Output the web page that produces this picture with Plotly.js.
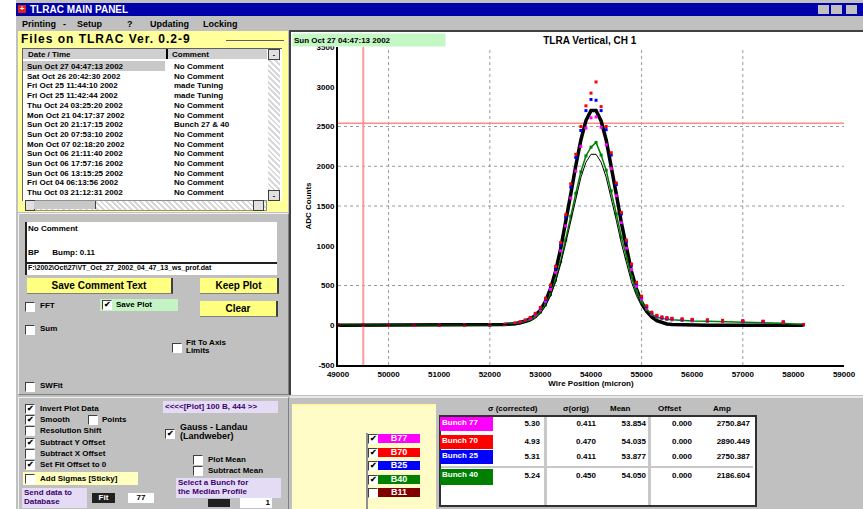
<!DOCTYPE html>
<html>
<head>
<meta charset="utf-8">
<script src="https://cdn.plot.ly/plotly-3.0.1.min.js"></script>
<style>
body{margin:0;width:863px;height:509px;position:relative;background:#fff;overflow:hidden;font-family:"Liberation Sans",Arial,sans-serif;font-size:8px;font-weight:bold;color:#000;}
.a{position:absolute;white-space:nowrap;}
.cb{position:absolute;width:8px;height:8px;background:#fff;border-top:1px solid #404040;border-left:1px solid #404040;border-right:1px solid #fff;border-bottom:1px solid #fff;font-size:8px;line-height:8px;text-align:center;}
.btn{position:absolute;background:#ffff80;border-right:2px solid #404040;border-bottom:1px solid #808080;font-size:10px;text-align:center;}
.lav{position:absolute;background:#e4dcf4;color:#400070;font-size:8px;line-height:9px;padding-left:2px;}
.row{position:absolute;left:27px;font-size:8px;}
.leg{position:absolute;left:378px;width:42px;height:9px;color:#fff;font-size:9px;line-height:9px;text-align:center;}
.rl{position:absolute;left:440px;width:51px;color:#fff;font-size:8px;line-height:12px;padding-left:2px;}
.v{position:absolute;text-align:right;font-size:8px;}
</style>
</head>
<body>
<div class="a" style="left:16px;top:0;width:847px;height:509px;background:#c0c0c0;"></div>
<!-- title bar -->
<div class="a" style="left:16px;top:3px;width:847px;height:13px;background:#0000a8;"></div>
<div class="a" style="left:18px;top:5px;width:8px;height:8px;background:#e02020;color:#fff;font-size:8px;line-height:8px;text-align:center;">+</div>
<div class="a" style="left:30px;top:4px;color:#fff;font-size:10px;">TLRAC MAIN PANEL</div>
<div class="a" style="left:818px;top:5px;width:11px;height:9px;background:#c0c0c0;"></div>
<div class="a" style="left:831px;top:5px;width:11px;height:9px;background:#c0c0c0;"></div>
<div class="a" style="left:846px;top:5px;width:11px;height:9px;background:#c0c0c0;"></div>
<!-- menu -->
<div class="a" style="left:22px;top:19px;font-size:9px;">Printing</div>
<div class="a" style="left:63px;top:19px;font-size:9px;">-</div>
<div class="a" style="left:77px;top:19px;font-size:9px;">Setup</div>
<div class="a" style="left:127px;top:19px;font-size:9px;">?</div>
<div class="a" style="left:150px;top:19px;font-size:9px;">Updating</div>
<div class="a" style="left:203px;top:19px;font-size:9px;">Locking</div>
<!-- yellow files group -->
<div class="a" style="left:18px;top:31px;width:270px;height:181px;background:#ffff9c;"></div>
<div class="a" style="left:21px;top:32px;font-size:12px;letter-spacing:1px;">Files on TLRAC Ver. 0.2-9</div>
<div class="a" style="left:226px;top:40px;width:58px;height:1px;background:#606060;"></div>
<div class="a" style="left:22px;top:48px;width:259px;height:152px;background:#fff;border-top:1px solid #606060;border-left:1px solid #606060;"></div>
<div class="a" style="left:23px;top:49px;width:244px;height:10px;background:#d0d0d0;"></div>
<div class="a" style="left:166px;top:49px;width:2px;height:10px;background:#000;"></div>
<div class="a" style="left:28px;top:50px;">Date / Time</div>
<div class="a" style="left:172px;top:50px;">Comment</div>
<div class="a" style="left:23px;top:61px;width:142px;height:10px;background:#c8c8c8;"></div>
<div class="a" style="left:268px;top:49px;width:12px;height:150px;background:repeating-linear-gradient(45deg,#fff 0 2px,#d8d8d8 2px 4px);"></div>
<div class="a" style="left:268px;top:49px;width:10px;height:9px;background:#e0e0e0;border:1px solid #404040;font-size:7px;line-height:9px;text-align:center;">-</div>
<div class="a" style="left:268px;top:190px;width:10px;height:9px;background:#e0e0e0;border:1px solid #404040;font-size:7px;line-height:9px;text-align:center;">-</div>
<div id="rows"></div>
<div class="a" style="left:25px;top:200px;width:240px;height:9px;background:repeating-linear-gradient(45deg,#fff 0 2px,#d8d8d8 2px 4px);border:1px solid #909090;"></div>
<div class="a" style="left:25px;top:200px;width:8px;height:9px;background:#e0e0e0;border:1px solid #404040;"></div>
<div class="a" style="left:34px;top:201px;width:61px;height:8px;background:#c8c8c8;border-right:1px solid #404040;"></div>
<div class="a" style="left:253px;top:200px;width:9px;height:9px;background:#e0e0e0;border:1px solid #404040;"></div>
<!-- lower left panel -->
<div class="a" style="left:18px;top:213px;width:269px;height:180px;border:1px solid #f0f0f0;border-right-color:#808080;border-bottom-color:#808080;"></div>
<div class="a" style="left:25px;top:222px;width:250px;height:40px;background:#fff;border-left:2px solid #202020;"></div>
<div class="a" style="left:28px;top:224px;">No Comment</div>
<div class="a" style="left:28px;top:248px;">BP &nbsp;&nbsp;&nbsp;&nbsp; Bump: 0.11</div>
<div class="a" style="left:25px;top:262px;width:250px;height:11px;background:#fff;border-top:2px solid #202020;border-left:2px solid #202020;"></div>
<div class="a" style="left:28px;top:264px;font-size:7px;">F:\2002\Oct\27\VT_Oct_27_2002_04_47_13_ws_prof.dat</div>
<div class="btn" style="left:27px;top:278px;width:144px;height:15px;line-height:15px;">Save Comment Text</div>
<div class="btn" style="left:200px;top:278px;width:77px;height:15px;line-height:15px;">Keep Plot</div>
<div class="btn" style="left:200px;top:301px;width:76px;height:15px;line-height:15px;">Clear</div>
<div class="cb" style="left:25px;top:302px;"></div><div class="a" style="left:40px;top:301px;">FFT</div>
<div class="a" style="left:100px;top:299px;width:78px;height:12px;background:#c4f4c4;"></div>
<div class="cb" style="left:102px;top:300px;">&#10004;</div><div class="a" style="left:116px;top:300px;">Save Plot</div>
<div class="cb" style="left:25px;top:325px;"></div><div class="a" style="left:40px;top:324px;">Sum</div>
<div class="cb" style="left:172px;top:343px;"></div><div class="a" style="left:186px;top:339px;line-height:8px;">Fit To Axis<br>Limits</div>
<div class="cb" style="left:25px;top:382px;"></div><div class="a" style="left:40px;top:381px;">SWFit</div>
<!-- bottom left panel -->
<div class="a" style="left:18px;top:397px;width:269px;height:112px;border-top:1px solid #f0f0f0;border-left:1px solid #f0f0f0;border-right:1px solid #808080;"></div>
<div class="cb" style="left:25px;top:404px;">&#10004;</div><div class="a" style="left:40px;top:404px;">Invert Plot Data</div>
<div class="cb" style="left:25px;top:415px;">&#10004;</div><div class="a" style="left:40px;top:415px;">Smooth</div>
<div class="cb" style="left:88px;top:415px;"></div><div class="a" style="left:102px;top:415px;">Points</div>
<div class="cb" style="left:25px;top:426px;"></div><div class="a" style="left:40px;top:426px;">Resolution Shift</div>
<div class="cb" style="left:25px;top:438px;">&#10004;</div><div class="a" style="left:40px;top:438px;">Subtract Y Offset</div>
<div class="cb" style="left:25px;top:449px;"></div><div class="a" style="left:40px;top:449px;">Subtract X Offset</div>
<div class="cb" style="left:25px;top:460px;">&#10004;</div><div class="a" style="left:40px;top:460px;">Set Fit Offset to 0</div>
<div class="a" style="left:23px;top:472px;width:115px;height:13px;background:#ffffc0;"></div>
<div class="cb" style="left:25px;top:474px;"></div><div class="a" style="left:40px;top:474px;">Add Sigmas [Sticky]</div>
<div class="lav" style="left:22px;top:488px;width:63px;height:20px;">Send data to<br>Database</div>
<div class="a" style="left:92px;top:493px;width:23px;height:10px;background:#202020;color:#fff;font-size:8px;line-height:10px;text-align:center;">Fit</div>
<div class="a" style="left:128px;top:493px;width:26px;height:10px;background:#fff;font-size:8px;line-height:10px;text-align:center;">77</div>
<div class="lav" style="left:163px;top:401px;width:113px;height:12px;line-height:12px;">&lt;&lt;&lt;&lt;[Plot] 100 B, 444 &gt;&gt;</div>
<div class="cb" style="left:165px;top:429px;">&#10004;</div><div class="a" style="left:180px;top:423px;line-height:9px;font-size:9px;">Gauss - Landau<br>(Landweber)</div>
<div class="cb" style="left:193px;top:455px;"></div><div class="a" style="left:208px;top:455px;">Plot Mean</div>
<div class="cb" style="left:193px;top:466px;"></div><div class="a" style="left:208px;top:466px;">Subtract Mean</div>
<div class="lav" style="left:176px;top:478px;width:103px;height:20px;">Select a Bunch for<br>the Median Profile</div>
<div class="a" style="left:208px;top:499px;width:22px;height:8px;background:#202020;"></div>
<div class="a" style="left:240px;top:498px;width:30px;height:10px;background:#fff;font-size:8px;line-height:10px;text-align:right;padding-right:2px;">1</div>
<!-- chart frame -->
<div class="a" style="left:289px;top:30px;width:573px;height:363px;background:#fff;border-top:2px solid #404040;border-left:2px solid #404040;border-right:1px solid #a0a0a0;"></div>
<div id="chart" class="a" style="left:290px;top:33px;width:571px;height:359px;"></div>
<!-- bottom right -->
<div class="a" style="left:290px;top:396px;width:573px;height:2px;background:#e8e8e8;"></div>
<div class="a" style="left:292px;top:404px;width:144px;height:105px;background:#fffcc8;border-top:2px solid #fff8a0;"></div>
<div class="a" style="left:366px;top:433px;width:2px;height:80px;background:#909090;"></div>
<div id="legend"></div>
<div class="a" style="left:439px;top:415px;width:314px;height:88px;background:#fff;border:2px solid #303030;"></div>
<div class="a" style="left:544px;top:417px;width:3px;height:88px;background:#c8c8c8;"></div>
<div class="a" style="left:648px;top:417px;width:3px;height:88px;background:#c8c8c8;"></div>
<div class="a" style="left:441px;top:466px;width:312px;height:2px;background:#c8c8c8;"></div>
<div id="table"></div>
<script>
// ---------- chart data ----------
const xPos = [49000,49500,50000,50500,51000,51500,52000,52300,52500,52600,52700,52800,52900,53000,53100,53200,53300,53400,53500,53600,53700,53800,53900,54000,54100,54200,54300,54400,54500,54600,54700,54800,54900,55000,55100,55200,55300,55400,55500,55600,55800,56000,56300,56600,57000,57400,57800,58200];
const refProfile = [0,0,0,0,0,0,3,10,20,32,52,80,125,190,300,460,680,960,1290,1650,2010,2330,2575,2700,2700,2570,2330,2010,1650,1290,955,675,455,292,180,105,58,32,16,8,3,1,0,0,0,0,0,0];
const bunch77 = [0,2,0,1,0,2,3,10,22,35,55,85,130,195,300,450,665,935,1250,1600,1940,2250,2480,2610,2620,2490,2270,1970,1630,1290,970,700,490,330,220,150,110,92,82,76,68,62,57,52,46,40,36,6];
const bunch70 = [0,4,0,2,0,3,6,14,28,42,66,98,150,225,340,505,740,1040,1390,1780,2150,2500,2760,2920,3060,2750,2500,2170,1790,1420,1070,770,540,365,245,165,125,105,95,88,80,74,68,62,58,52,40,8];
const bunch25 = [3,6,2,5,3,4,4,12,25,40,62,95,145,215,325,490,720,1010,1360,1740,2110,2450,2700,2840,2830,2700,2460,2140,1770,1400,1050,755,525,355,235,158,118,100,90,84,76,70,64,58,52,46,42,10];
const bunch40 = [0,0,0,0,0,0,3,9,18,30,46,72,110,165,255,385,565,800,1070,1370,1660,1930,2130,2240,2300,2140,1950,1690,1400,1110,840,610,430,295,200,138,100,84,74,68,60,55,50,44,40,34,26,4];
const fitCurve = [0,0,0,0,0,0,0,2,8,15,28,50,88,148,240,370,545,770,1030,1320,1600,1860,2050,2150,2150,2050,1860,1600,1320,1030,770,545,370,240,148,88,50,28,15,8,2,0,0,0,0,0,0,0];
const xTicks = [49000,50000,51000,52000,53000,54000,55000,56000,57000,58000,59000];
const yTicks = [-500,0,500,1000,1500,2000,2500,3000,3500];
const vGrid = [50000,52000,55000,57000];
const hGrid = [500,1500,2000,2500];
const cursorX = 49500;
const cursorY = 2540;
const scanStamp = 'Sun Oct 27 04:47:13 2002';

// ---------- panel data ----------
const fileDates = ['Sun Oct 27 04:47:13 2002','Sat Oct 26 20:42:30 2002','Fri Oct 25 11:44:10 2002','Fri Oct 25 11:42:44 2002','Thu Oct 24 03:25:20 2002','Mon Oct 21 04:17:37 2002','Sun Oct 20 21:17:15 2002','Sun Oct 20 07:53:10 2002','Mon Oct 07 02:18:20 2002','Sun Oct 06 21:11:40 2002','Sun Oct 06 17:57:16 2002','Sun Oct 06 13:15:25 2002','Fri Oct 04 06:13:56 2002','Thu Oct 03 21:12:31 2002'];
const fileComments = ['No Comment','No Comment','made Tuning','made Tuning','No Comment','No Comment','Bunch 27 & 40','No Comment','No Comment','No Comment','No Comment','No Comment','No Comment','No Comment'];
const legendNames = ['B77','B70','B25','B40','B11'];
const legendColors = ['#ff00ff','#ff0000','#0000ff','#008000','#800000'];
const legendOn = [true,true,true,true,false];
const rowNames = ['Bunch 77','Bunch 70','Bunch 25','Bunch 40'];
const colHeads = ['\u03c3 (corrected)','\u03c3(orig)','Mean','Offset','Amp'];
const sigCorr = ['5.30','4.93','5.31','5.24'];
const sigOrig = ['0.411','0.470','0.411','0.450'];
const means = ['53.854','54.035','53.877','54.050'];
const offsets = ['0.000','0.000','0.000','0.000'];
const amps = ['2750.847','2890.449','2750.387','2186.604'];

// build panels
let h='';
fileDates.forEach((d,i)=>{const t=62+i*9.7;h+=`<div class="a" style="left:27px;top:${t}px;">${d}</div><div class="a" style="left:174px;top:${t}px;">${fileComments[i]}</div>`;});
document.getElementById('rows').innerHTML=h;
h='';
legendNames.forEach((n,i)=>{const t=434+i*13.5;h+=`<div class="cb" style="left:368px;top:${t}px;">${legendOn[i]?'&#10004;':''}</div><div class="leg" style="top:${t}px;background:${legendColors[i]};">${n}</div>`;});
document.getElementById('legend').innerHTML=h;
h='';
const headX=[[488,58],[563,35],[610,28],[658,34],[713,28]];
colHeads.forEach((c,i)=>{h+=`<div class="a" style="left:${headX[i][0]}px;top:404px;">${c}</div>`;});
const rowTop=[417,435,450,469];
const colR=[[492,48],[550,46],[600,46],[652,40],[694,56]];
rowNames.forEach((r,i)=>{
  h+=`<div class="rl" style="top:${rowTop[i]}px;height:${i==3?16:14}px;background:${legendColors[i]};">${r}</div>`;
  [sigCorr,sigOrig,means,offsets,amps].forEach((arr,j)=>{h+=`<div class="v" style="left:${colR[j][0]}px;width:${colR[j][1]}px;top:${rowTop[i]+2}px;">${arr[i]}</div>`;});
});
document.getElementById('table').innerHTML=h;

// ---------- plot ----------
const mk = (y,color,mode,extra)=>Object.assign({x:xPos,y:y,type:'scatter',mode:mode,hoverinfo:'skip',
  marker:{color:color,size:3,symbol:'square'},line:{color:color,width:1.5}},extra||{});
const traces = [
  mk(refProfile,'#000000','lines',{line:{color:'#000',width:3.5}}),
  mk(bunch40,'#008000','lines+markers',{line:{color:'#008000',width:1.5}}),
  mk(bunch77,'#ff00ff','markers'),
  mk(bunch25,'#0000ff','markers'),
  mk(bunch70,'#ff0000','markers'),
  mk(fitCurve,'#000000','lines',{line:{color:'#000',width:1}})
];
const shapes = [];
vGrid.forEach(v=>shapes.push({type:'line',xref:'x',yref:'y',x0:v,x1:v,y0:-500,y1:3500,line:{color:'#9a9a9a',width:1,dash:'dot'},layer:'below'}));
hGrid.forEach(v=>shapes.push({type:'line',xref:'x',yref:'y',x0:49000,x1:59000,y0:v,y1:v,line:{color:'#9a9a9a',width:1,dash:'dot'},layer:'below'}));
shapes.push({type:'line',xref:'x',yref:'y',x0:cursorX,x1:cursorX,y0:-500,y1:3500,line:{color:'#ff9a9a',width:2},layer:'below'});
shapes.push({type:'line',xref:'x',yref:'y',x0:49000,x1:59000,y0:cursorY,y1:cursorY,line:{color:'#ff8a8a',width:1.5},layer:'below'});

const layout = {
  width:571,height:359,
  margin:{l:48,r:17,t:14,b:27},
  paper_bgcolor:'rgba(0,0,0,0)',plot_bgcolor:'#fff',
  showlegend:false,
  font:{family:'Liberation Sans, Arial, sans-serif',size:8,color:'#000',weight:'bold'},
  title:{text:'<b>TLRA Vertical, CH 1</b>',x:0.525,xanchor:'center',y:0.978,yanchor:'middle',xref:'container',yref:'container',font:{size:10,color:'#000'}},
  xaxis:{range:[49000,59000],tickvals:xTicks,ticktext:xTicks.map(String),showgrid:false,zeroline:false,showline:true,linecolor:'#000',linewidth:2,ticks:'',
    tickfont:{size:8,weight:'bold'},title:{text:'<b>Wire Position (micron)</b>',standoff:2,font:{size:8}},automargin:false},
  yaxis:{range:[-500,3500],tickvals:yTicks,ticktext:yTicks.map(String),showgrid:false,zeroline:false,showline:true,linecolor:'#000',linewidth:2,ticks:'',
    tickfont:{size:8,weight:'bold'},title:{text:'<b>ADC Counts</b>',standoff:4,font:{size:8}},automargin:false},
  shapes:shapes,
  annotations:[{text:'<b>'+scanStamp+'</b>',xref:'paper',yref:'paper',x:-0.091,xanchor:'left',y:1.023,yanchor:'middle',showarrow:false,
    bgcolor:'#c4f7c4',width:150,height:10,align:'left',font:{size:8,color:'#000'}}]
};
Plotly.newPlot('chart',traces,layout,{displayModeBar:false,staticPlot:true});
</script>
</body>
</html>
